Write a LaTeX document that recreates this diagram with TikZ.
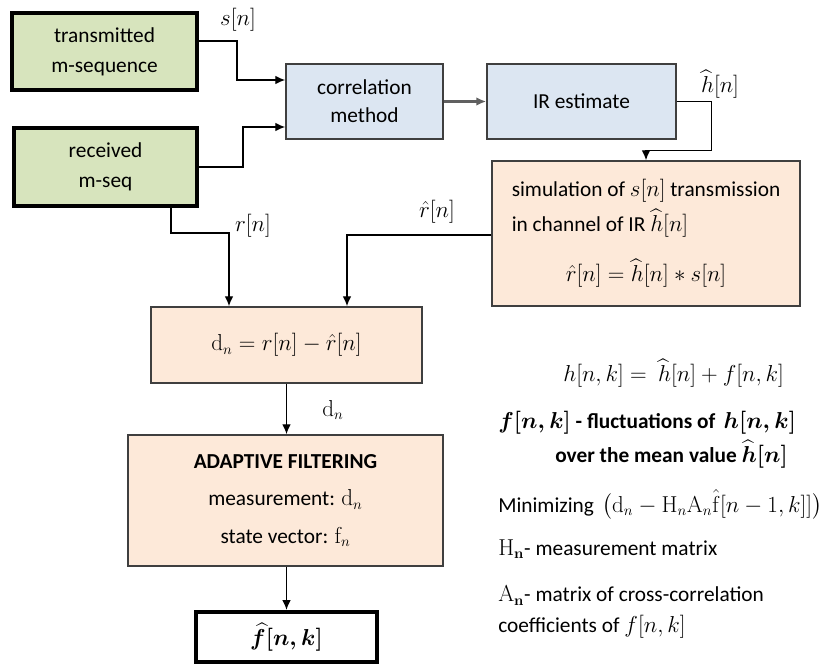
\documentclass[tikz,border=0pt]{standalone}
\usepackage{amsmath,amssymb}
\usepackage[no-math]{fontspec}
\setmainfont{Carlito}
\usepackage{tikz}
\usetikzlibrary{arrows, arrows.meta, positioning, calc}

\definecolor{greenfill}{HTML}{D7E4BD}
\definecolor{bluefill}{HTML}{DCE6F2}
\definecolor{peachfill}{HTML}{FDE9D9}
\definecolor{boxline}{HTML}{3F3F3F}

\tikzset{
    sz/.style 2 args={minimum width=#1*0.75pt, minimum height=#2*0.75pt},
    box/.style={rectangle, draw=boxline, line width=1.1pt, inner sep=0pt, align=center},
    greenbox/.style={box, draw=black, line width=3pt, fill=greenfill},
    bluebox/.style={box, fill=bluefill},
    peachbox/.style={box, fill=peachfill},
    outbox/.style={box, draw=black, line width=3pt},
    sig/.style={->, line width=1pt, black},
    lbl/.style={inner sep=0pt},
    note/.style={inner sep=0pt, anchor=west, align=left}
}

\begin{document}
\begin{tikzpicture}[x=0.75pt, y=-0.75pt, >={Latex[length=7.5pt,width=6.5pt]},
        font=\fontsize{16}{21}\selectfont]
        \useasboundingbox (0,0) rectangle (820,664);

        \node[greenbox, sz={185}{77}]   (tx_seq)  at (104.5,51.5)   {transmitted\\[1.5pt]m-sequence};
        \node[greenbox, sz={183}{78}]   (rx_seq)  at (105.5,167)    {received\\[1.5pt]m-seq};
        \node[bluebox,  sz={157}{75}]   (corr)    at (364.5,101.5)  {correlation\\method};
        \node[bluebox,  sz={189}{75}]   (ir_est)  at (581.5,101.5)  {IR estimate};
        \node[peachbox, sz={308}{145}]  (sim)     at (646,233.5)    {\begin{tabular}{@{}l@{}}
                simulation of $s[n]$ transmission\\[3pt]
                in channel of IR $\widehat{h}[n]$\\[15pt]
                \multicolumn{1}{@{}c@{}}{$\hat{r}[n]=\widehat{h}[n]\ast s[n]$}
            \end{tabular}};
        \node[peachbox, sz={271}{76}]   (d_n)     at (286.5,345)    {$\mathrm{d}_n=r[n]-\hat{r}[n]$};
        \node[peachbox, sz={315}{131}]  (adapt)   at (285.5,500.5)  {\textbf{ADAPTIVE FILTERING}\\[7pt]
                measurement: $\mathrm{d}_n$\\[7pt]state vector: $\mathrm{f}_n$};
        \node[outbox,   sz={181}{50}]   (f_hat)   at (286.5,637)    {$\boldsymbol{\widehat{f}[n,k]}$};

        % signal labels
        \node[lbl]  (s_lbl)   at (238,20)   {$s[n]$};
        \node[lbl]  (r_lbl)   at (253,226)  {$r[n]$};
        \node[lbl]  (rh_lbl)  at (437,212)  {$\hat{r}[n]$};
        \node[lbl]  (hh_lbl)  at (720,84)   {$\widehat{h}[n]$};
        \node[lbl]  (d_lbl)   at (333,410)  {$\mathrm{d}_n$};

        % model notes
        \node[note] (model)   at (563,373)  {$h[n,k]=\ \widehat{h}[n]+f[n,k]$};
        \node[note] (fluct)   at (498,423)  {\textbf{$\boldsymbol{f[n,k]}$ - fluctuations of \,$\boldsymbol{h[n,k]}$}};
        \node[note] (mean)    at (555,454)  {\textbf{over the mean value $\boldsymbol{\widehat{h}[n]}$}};
        \node[note] (mini)    at (498,505)  {Minimizing \,$\bigl(\mathrm{d}_n-\mathrm{H}_n\mathrm{A}_n\hat{\mathrm{f}}[n-1,k]]\bigr)$};
        \node[note] (h_mat)   at (498,549)  {$\mathrm{H}_{\mathbf{n}}$- measurement matrix};
        \node[note] (a_mat)   at (498,612)  {$\mathrm{A}_{\mathbf{n}}$- matrix of cross-correlation\\[2pt]coefficients of $f[n,k]$};

        % connectors
        \coordinate (s_in)  at ($(corr.west)+(0,-21.5)$);
        \coordinate (r_in)  at ($(corr.west)+(0,25.5)$);
        \coordinate (r_out) at ($(rx_seq.south)+(65.5,0)$);
        \coordinate (r_to)  at ($(d_n.north)+(-57.5,0)$);
        \coordinate (rh_to) at ($(d_n.north)+(60.5,0)$);

        \draw[sig] ($(tx_seq.east)+(0,-10.5)$) -- ++(38,0) |- (s_in);
        \draw[sig] (rx_seq.east) -- ++(44,0) |- (r_in);
        \draw[->, line width=1.8pt, gray!75!black] (corr.east) -- (ir_est.west);
        \draw[sig] (ir_est.east) -- ++(35,0) |- ($(sim.north)+(0,-10)$) -- (sim.north);
        \draw[sig] ($(sim.west)+(0,1.5)$) -| (rh_to);
        \draw[sig] (r_out) -- ++(0,25) -| (r_to);
        \draw[sig] (d_n.south) -- (adapt.north -| d_n.south);
        \draw[sig] (adapt.south -| f_hat.north) -- (f_hat.north);
    \end{tikzpicture}
\end{document}
